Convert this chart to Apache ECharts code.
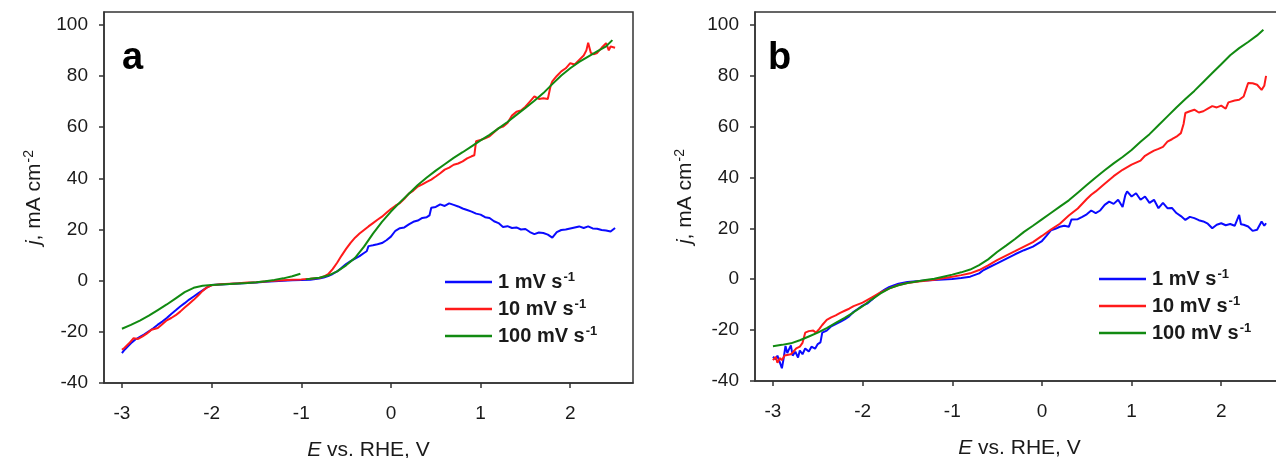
<!DOCTYPE html>
<html lang="en">
<head>
<meta charset="utf-8">
<title>LSV at different scan rates</title>
<script src="https://cdn.jsdelivr.net/npm/echarts@6/dist/echarts.min.js"></script>
</head>
<body style="margin:0;background:#fff;">
<div id="main" style="width:1276px;height:458px;"></div>
<script>
// x tick positions / y tick positions
var xTicks = [-3, -2, -1, 0, 1, 2];
var yTicks = [-40, -20, 0, 20, 40, 60, 80, 100];
var names = ['1 mV s-1', '10 mV s-1', '100 mV s-1'];
var colors = ['#0a0aff', '#ff1a1a', '#118a11'];

// panel a : [E, j]
var a1 = [[-3.0,-28.3],[-2.97,-27],[-2.95,-26.5],[-2.9,-24.5],[-2.85,-23],[-2.8,-22],[-2.75,-21],[-2.7,-19.8],[-2.65,-18.6],[-2.6,-17.2],[-2.55,-16],[-2.5,-14.6],[-2.45,-13],[-2.4,-11.6],[-2.35,-10.1],[-2.3,-8.8],[-2.25,-7.4],[-2.2,-6.2],[-2.15,-5],[-2.1,-3.8],[-2.05,-2.6],[-2.0,-1.7],[-1.9,-1.5],[-1.8,-1.3],[-1.7,-1.1],[-1.6,-0.9],[-1.5,-0.7],[-1.4,-0.4],[-1.3,-0.2],[-1.2,0],[-1.1,0.2],[-1.0,0.3],[-0.9,0.4],[-0.8,0.8],[-0.75,1.2],[-0.7,1.8],[-0.65,2.6],[-0.6,3.6],[-0.55,5],[-0.5,6.5],[-0.45,7.6],[-0.4,8.6],[-0.35,9.6],[-0.3,10.8],[-0.27,11.5],[-0.25,13.5],[-0.2,13.8],[-0.15,14.2],[-0.1,14.7],[-0.05,15.8],[0,17.2],[0.05,19.5],[0.1,20.5],[0.15,20.8],[0.2,22],[0.25,23],[0.3,23.5],[0.35,24.5],[0.4,24.8],[0.43,25.5],[0.45,28.5],[0.5,28.8],[0.55,29.8],[0.6,29.2],[0.65,30.2],[0.7,29.6],[0.75,29],[0.8,28.2],[0.85,27.6],[0.9,27],[0.95,26.2],[1.0,25.8],[1.05,24.8],[1.1,24.5],[1.15,23.2],[1.2,22.5],[1.25,21],[1.3,21.3],[1.35,20.6],[1.4,20.8],[1.45,20],[1.5,20.2],[1.55,19],[1.6,18.2],[1.65,18.8],[1.7,18.6],[1.75,18],[1.8,16.8],[1.85,19],[1.9,19.8],[1.95,20],[2.0,20.4],[2.05,20.8],[2.1,21.2],[2.15,20.6],[2.2,21.2],[2.25,20.4],[2.3,20.3],[2.35,19.8],[2.4,19.6],[2.45,19.2],[2.5,20.6]];
var a10 = [[-3.0,-27],[-2.97,-26.2],[-2.95,-26.8],[-2.92,-24.5],[-2.9,-24],[-2.87,-22.5],[-2.85,-23.2],[-2.82,-22.8],[-2.8,-23],[-2.77,-21.8],[-2.75,-22.2],[-2.72,-20.6],[-2.7,-21.2],[-2.67,-19.2],[-2.65,-19.8],[-2.6,-18.5],[-2.55,-17],[-2.5,-15.5],[-2.45,-14.6],[-2.4,-13.5],[-2.35,-12.1],[-2.3,-10.5],[-2.25,-9],[-2.2,-7.5],[-2.15,-5.8],[-2.1,-4],[-2.05,-2.6],[-2.0,-1.8],[-1.9,-1.4],[-1.8,-1.2],[-1.7,-1],[-1.6,-0.7],[-1.5,-0.6],[-1.4,-0.3],[-1.3,0],[-1.2,0.2],[-1.1,0.4],[-1.0,0.5],[-0.9,0.7],[-0.8,1.0],[-0.75,1.6],[-0.7,2.5],[-0.65,4.5],[-0.6,7],[-0.55,9.8],[-0.5,12.4],[-0.45,14.8],[-0.4,16.8],[-0.35,18.4],[-0.3,19.8],[-0.25,21.2],[-0.2,22.5],[-0.15,23.8],[-0.1,25],[-0.05,26.5],[0,28],[0.05,29.3],[0.1,30.3],[0.15,32],[0.2,34],[0.25,35.2],[0.3,36.8],[0.35,37.6],[0.4,38.6],[0.45,39.5],[0.5,40.7],[0.55,42],[0.6,43.4],[0.65,44.2],[0.7,45.3],[0.75,45.8],[0.8,46.6],[0.85,47.8],[0.9,48.6],[0.93,49],[0.95,54.5],[1.0,55],[1.05,55.6],[1.1,56.4],[1.15,58],[1.2,59.6],[1.25,60.2],[1.3,61.6],[1.35,64.5],[1.4,66],[1.45,66.5],[1.5,68],[1.55,70],[1.6,72],[1.65,71],[1.7,71.3],[1.75,71],[1.78,76],[1.8,77.9],[1.85,80],[1.9,81.8],[1.95,83],[2.0,85],[2.05,84.5],[2.1,86.3],[2.15,88],[2.18,90],[2.2,93],[2.23,89],[2.26,88.5],[2.3,89],[2.35,91],[2.4,92.8],[2.43,90],[2.45,91.5],[2.5,91]];
var a100 = [[-3.0,-18.8],[-2.9,-17.3],[-2.8,-15.6],[-2.7,-13.7],[-2.6,-11.5],[-2.5,-9.3],[-2.4,-6.9],[-2.3,-4.5],[-2.2,-2.8],[-2.1,-2],[-2.0,-1.7],[-1.9,-1.5],[-1.8,-1.3],[-1.7,-1.1],[-1.6,-0.9],[-1.5,-0.6],[-1.4,-0.2],[-1.3,0.3],[-1.2,0.9],[-1.1,1.7],[-1.01,2.7],[-0.98,null],[-0.95,0.5],[-0.9,0.7],[-0.8,1.1],[-0.7,2],[-0.6,3.6],[-0.5,6],[-0.4,8.9],[-0.3,13.3],[-0.2,18.4],[-0.1,23],[0,27],[0.1,30.6],[0.2,34],[0.3,37.4],[0.4,40.3],[0.5,43],[0.6,45.5],[0.7,48],[0.8,50.2],[0.9,52.5],[1.0,54.8],[1.1,57],[1.2,59.5],[1.3,62],[1.4,64.8],[1.5,67.5],[1.6,70.3],[1.7,73.3],[1.8,76.8],[1.9,80.2],[2.0,83],[2.1,85.5],[2.2,87.6],[2.3,89.6],[2.4,91.6],[2.47,94]];

// panel b : [E, j]
var b1 = [[-3.0,-30.5],[-2.97,-31.5],[-2.95,-30],[-2.92,-33],[-2.9,-35],[-2.88,-31],[-2.86,-26.2],[-2.84,-29],[-2.82,-27.5],[-2.8,-26],[-2.78,-30],[-2.75,-28.5],[-2.72,-30.8],[-2.7,-28],[-2.67,-29.5],[-2.64,-27.2],[-2.6,-28.4],[-2.57,-26.5],[-2.53,-27.3],[-2.5,-25.5],[-2.47,-24.8],[-2.45,-21],[-2.4,-20.2],[-2.35,-18.5],[-2.3,-17.6],[-2.25,-16.8],[-2.2,-15.8],[-2.15,-14.6],[-2.1,-12.8],[-2.05,-11.6],[-2.0,-10.4],[-1.95,-9.6],[-1.9,-8.2],[-1.85,-6.6],[-1.8,-5.2],[-1.75,-4],[-1.7,-3],[-1.6,-1.8],[-1.5,-1.1],[-1.4,-0.8],[-1.3,-0.5],[-1.2,-0.3],[-1.1,-0.1],[-1.0,0.1],[-0.9,0.5],[-0.8,1],[-0.7,2.3],[-0.65,3.6],[-0.6,4.5],[-0.5,6.2],[-0.4,8],[-0.3,9.8],[-0.2,11.4],[-0.1,12.8],[0,15],[0.05,17],[0.1,19.2],[0.15,19.8],[0.2,20.6],[0.25,21],[0.3,20.6],[0.33,23.5],[0.35,24],[0.4,23.6],[0.45,24.5],[0.5,25.5],[0.55,27],[0.6,26],[0.65,27],[0.7,29.2],[0.75,30.5],[0.8,29.6],[0.85,31.2],[0.9,28.4],[0.93,33],[0.95,34.5],[1.0,32.5],[1.05,33.8],[1.1,31.2],[1.15,32.5],[1.2,30],[1.25,31.2],[1.3,27.9],[1.35,30],[1.4,27.9],[1.45,28],[1.5,26],[1.55,24.8],[1.6,23.3],[1.65,24.5],[1.7,24],[1.75,23.2],[1.8,22.7],[1.85,21.8],[1.9,20],[1.95,21.4],[2.0,22],[2.05,21.2],[2.1,21.7],[2.15,21],[2.2,25.3],[2.22,21.6],[2.25,21.4],[2.3,20.7],[2.35,19],[2.4,19.4],[2.45,22.7],[2.48,21],[2.5,22]];
var b10 = [[-3.0,-31.8],[-2.97,-30.5],[-2.95,-32.8],[-2.92,-31],[-2.9,-31.8],[-2.87,-30],[-2.85,-30.5],[-2.8,-29.5],[-2.77,-28.4],[-2.74,-27.2],[-2.7,-26.5],[-2.67,-25],[-2.64,-21],[-2.6,-20.4],[-2.55,-20.2],[-2.52,-21],[-2.48,-19.4],[-2.45,-18],[-2.4,-16],[-2.35,-15],[-2.3,-14.2],[-2.25,-13.2],[-2.2,-12.4],[-2.15,-11.6],[-2.1,-10.6],[-2.0,-9.2],[-1.9,-7.2],[-1.8,-5.2],[-1.7,-3.6],[-1.6,-2.3],[-1.5,-1.5],[-1.4,-1],[-1.3,-0.6],[-1.2,-0.2],[-1.1,0.4],[-1.0,1],[-0.9,1.6],[-0.8,2.3],[-0.7,3.6],[-0.6,5.4],[-0.5,7.5],[-0.4,9.3],[-0.3,11],[-0.2,12.8],[-0.1,14.6],[0,17],[0.1,19.5],[0.2,21.8],[0.3,25],[0.4,27.8],[0.5,31.5],[0.55,33.2],[0.6,34.5],[0.7,37.5],[0.8,40.5],[0.9,43],[1.0,45],[1.1,46.6],[1.15,48.5],[1.2,49.5],[1.25,50.5],[1.3,51.2],[1.35,52],[1.4,54.1],[1.45,55],[1.5,56],[1.55,57.4],[1.58,61],[1.6,65.3],[1.65,66],[1.7,66.6],[1.75,65.5],[1.8,66],[1.85,67],[1.9,68],[1.95,67.5],[2.0,68.2],[2.05,67],[2.08,69.5],[2.1,69.9],[2.15,70.2],[2.2,70.5],[2.25,71.8],[2.28,75],[2.3,77.1],[2.35,77],[2.4,76.4],[2.45,74.4],[2.48,76],[2.5,79.9]];
var b100 = [[-3.0,-26.3],[-2.9,-25.8],[-2.8,-25.2],[-2.7,-24],[-2.6,-22.5],[-2.5,-21],[-2.4,-19.2],[-2.3,-17.2],[-2.2,-15.2],[-2.1,-13],[-2.0,-10.6],[-1.9,-8],[-1.8,-5.6],[-1.7,-3.6],[-1.6,-2.4],[-1.5,-1.5],[-1.4,-0.9],[-1.3,-0.3],[-1.2,0.2],[-1.1,1],[-1.0,1.8],[-0.9,2.7],[-0.8,3.8],[-0.7,5.5],[-0.6,7.8],[-0.5,10.7],[-0.4,13.2],[-0.3,15.8],[-0.2,18.6],[-0.1,21],[0,23.5],[0.1,26],[0.2,28.5],[0.3,31],[0.4,34],[0.5,37],[0.6,40],[0.7,42.8],[0.8,45.5],[0.9,48],[1.0,50.8],[1.1,54],[1.2,57],[1.3,60.5],[1.4,64],[1.5,67.5],[1.6,70.8],[1.7,74],[1.8,77.5],[1.9,81],[2.0,84.5],[2.1,88],[2.2,90.8],[2.3,93.2],[2.4,95.8],[2.47,98]];

var font = 'Liberation Sans, Arial, sans-serif';
var ink = '#1a1a1a';

function xAxisCfg(idx) {
  return {
    type: 'value', gridIndex: idx, min: -3.2, max: 2.7,
    name: '{i|E} vs. RHE, V', nameLocation: 'middle', nameGap: 57,
    nameTextStyle: { fontFamily: font, fontSize: 21, color: ink,
      rich: { i: { fontFamily: font, fontSize: 21, fontStyle: 'italic', color: ink } } },
    axisLine: { show: true, onZero: false, lineStyle: { color: '#333', width: 1.5 } },
    axisTick: { show: true, length: 5, inside: false, customValues: xTicks, lineStyle: { color: '#333', width: 1.5 } },
    axisLabel: { customValues: xTicks, margin: 21, fontFamily: font, fontSize: 19, color: ink },
    splitLine: { show: false }
  };
}
function yAxisCfg(idx) {
  return {
    type: 'value', gridIndex: idx, min: -40, max: 105,
    name: '{i|j}, mA cm{s|-2}', nameLocation: 'middle', nameGap: 58,
    nameTextStyle: { fontFamily: font, fontSize: 21, color: ink,
      rich: {
        i: { fontFamily: font, fontSize: 21, fontStyle: 'italic', color: ink },
        s: { fontFamily: font, fontSize: 14, color: ink, verticalAlign: 'top', padding: [0, 0, 10, 1] }
      } },
    axisLine: { show: true, onZero: false, lineStyle: { color: '#333', width: 1.5 } },
    axisTick: { show: true, length: 5, inside: false, customValues: yTicks, lineStyle: { color: '#333', width: 1.5 } },
    axisLabel: { customValues: yTicks, margin: 16, fontFamily: font, fontSize: 19, color: ink },
    splitLine: { show: false }
  };
}
function legendCfg(left, top) {
  return {
    orient: 'vertical', left: left, top: top, data: names,
    icon: 'rect', itemWidth: 47, itemHeight: 2.5, itemGap: 6,
    formatter: function (n) { return '{t|' + n.replace(' s-1', ' s') + '}{s|-1}'; },
    textStyle: {
      rich: {
        t: { fontFamily: font, fontSize: 20, fontWeight: 'bold', color: ink, padding: [0, 0, 0, 1], lineHeight: 22 },
        s: { fontFamily: font, fontSize: 13, fontWeight: 'bold', color: ink, verticalAlign: 'top', padding: [0, 0, 9, 1] }
      }
    }
  };
}
function lineSeries(name, data, color, idx) {
  return {
    name: name, type: 'line', data: data, xAxisIndex: idx, yAxisIndex: idx,
    showSymbol: false, symbol: 'none', connectNulls: false,
    lineStyle: { color: color, width: 2 }, itemStyle: { color: color }
  };
}

var chart = echarts.init(document.getElementById('main'));
chart.setOption({
  backgroundColor: '#fff',
  animation: false,
  grid: [
    { left: 104, top: 12, width: 529, height: 371, show: true, borderColor: '#333', borderWidth: 1.5, outerBoundsMode: 'none' },
    { left: 755, top: 12, width: 529, height: 369, show: true, borderColor: '#333', borderWidth: 1.5, outerBoundsMode: 'none' }
  ],
  xAxis: [xAxisCfg(0), xAxisCfg(1)],
  yAxis: [yAxisCfg(0), yAxisCfg(1)],
  legend: [legendCfg(440, 266), legendCfg(1094, 263)],
  graphic: [
    { type: 'text', left: 122, top: 40, style: { text: 'a', font: 'bold 38px Liberation Sans, Arial, sans-serif', fill: '#000' } },
    { type: 'text', left: 768, top: 40, style: { text: 'b', font: 'bold 38px Liberation Sans, Arial, sans-serif', fill: '#000' } }
  ],
  series: [
    lineSeries(names[0], a1, colors[0], 0),
    lineSeries(names[1], a10, colors[1], 0),
    lineSeries(names[2], a100, colors[2], 0),
    lineSeries(names[0], b1, colors[0], 1),
    lineSeries(names[1], b10, colors[1], 1),
    lineSeries(names[2], b100, colors[2], 1)
  ]
});
</script>
</body>
</html>
